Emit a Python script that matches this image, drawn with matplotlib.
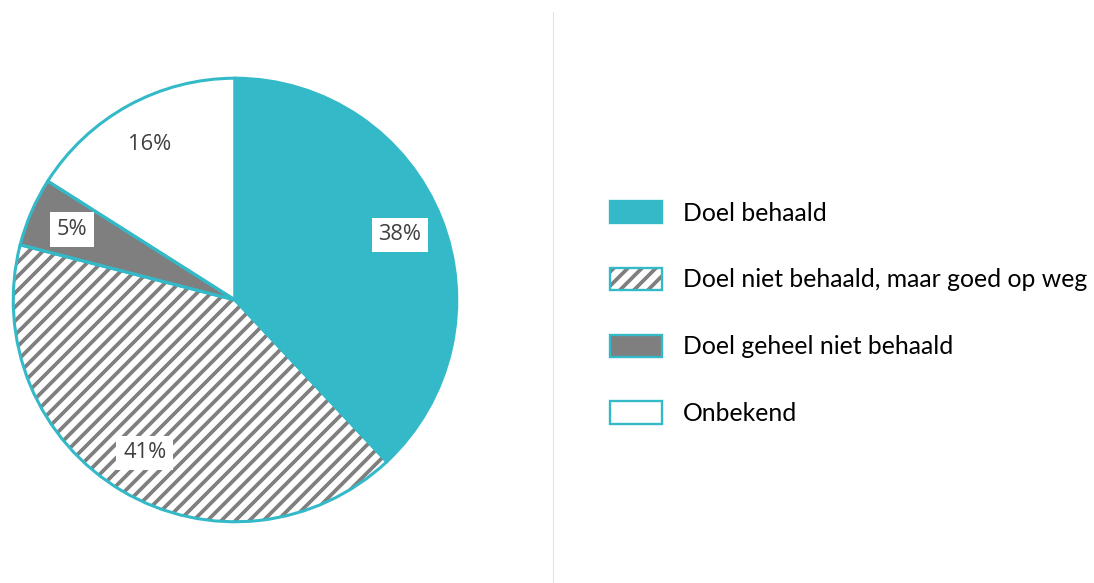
import matplotlib.pyplot as plt
from matplotlib.patches import Patch
from matplotlib.legend_handler import HandlerTuple

# pie data
categories = ['Doel behaald', 'Doel niet behaald, maar goed op weg',
              'Doel geheel niet behaald', 'Onbekend']
shares = [38, 41, 5, 16]

teal = '#33b9c8'
grey = '#7f7f7f'
face = [teal, 'white', grey, 'white']
hatches = [None, '//', None, None]

DPI = 84
plt.rcParams['hatch.linewidth'] = 3.2
plt.rcParams['font.family'] = ['Open Sans', 'DejaVu Sans']

fig = plt.figure(figsize=(1094 / DPI, 583 / DPI), dpi=DPI)
W, H = 1094, 583
cx, cy, r = 235, 300, 224
ax = fig.add_axes([(cx - r) / W, (H - cy - r) / H, 2 * r / W, 2 * r / H])

# first pass: fills + hatching
wedges, texts, autotexts = ax.pie(
    shares, startangle=90, counterclock=False, radius=1,
    colors=face, autopct=lambda p: '%d%%' % round(p), pctdistance=0.8,
    wedgeprops=dict(linewidth=0),
    textprops=dict(fontsize=18.8, color='#404040'))
for w, h in zip(wedges, hatches):
    if h:
        w.set_hatch(h)
        w.set_edgecolor(grey)
for t in autotexts:
    t.set_bbox(dict(facecolor='white', edgecolor='none', boxstyle='square,pad=0.3'))
    t.set_zorder(5)

# second pass: teal outlines
ax.pie(shares, startangle=90, counterclock=False, radius=1,
       colors=['none'] * 4,
       wedgeprops=dict(linewidth=2.6, edgecolor=teal, joinstyle='miter'))
ax.set_aspect('auto')
ax.set_xlim(-1.01, 1.01)
ax.set_ylim(-1.01, 1.01)
ax.axis('off')

# divider line
fig.add_artist(plt.Line2D([553 / W, 553 / W], [0, 1 - 12 / H], color='#e3e3e3', lw=0.9))

# legend
handles = []
for f, h in zip(face, hatches):
    if h:
        handles.append((Patch(facecolor='white', hatch=h, edgecolor=grey, linewidth=0),
                        Patch(facecolor='none', edgecolor=teal, linewidth=2)))
    else:
        handles.append(Patch(facecolor=f, edgecolor=teal, linewidth=2))
fs_px = 24.8
leg = fig.legend(handles, categories, loc='upper left',
                 bbox_to_anchor=(610 / W, 1 - 201 / H), frameon=False,
                 prop=dict(family=['Lato', 'DejaVu Sans'], size=fs_px * 72 / DPI),
                 handlelength=52 / fs_px, handleheight=25 / fs_px,
                 handletextpad=0.85, labelspacing=1.74, borderpad=0, borderaxespad=0,
                 handler_map={tuple: HandlerTuple(ndivide=1, pad=0)})

fig.savefig('out.png', dpi=DPI, facecolor='white')
